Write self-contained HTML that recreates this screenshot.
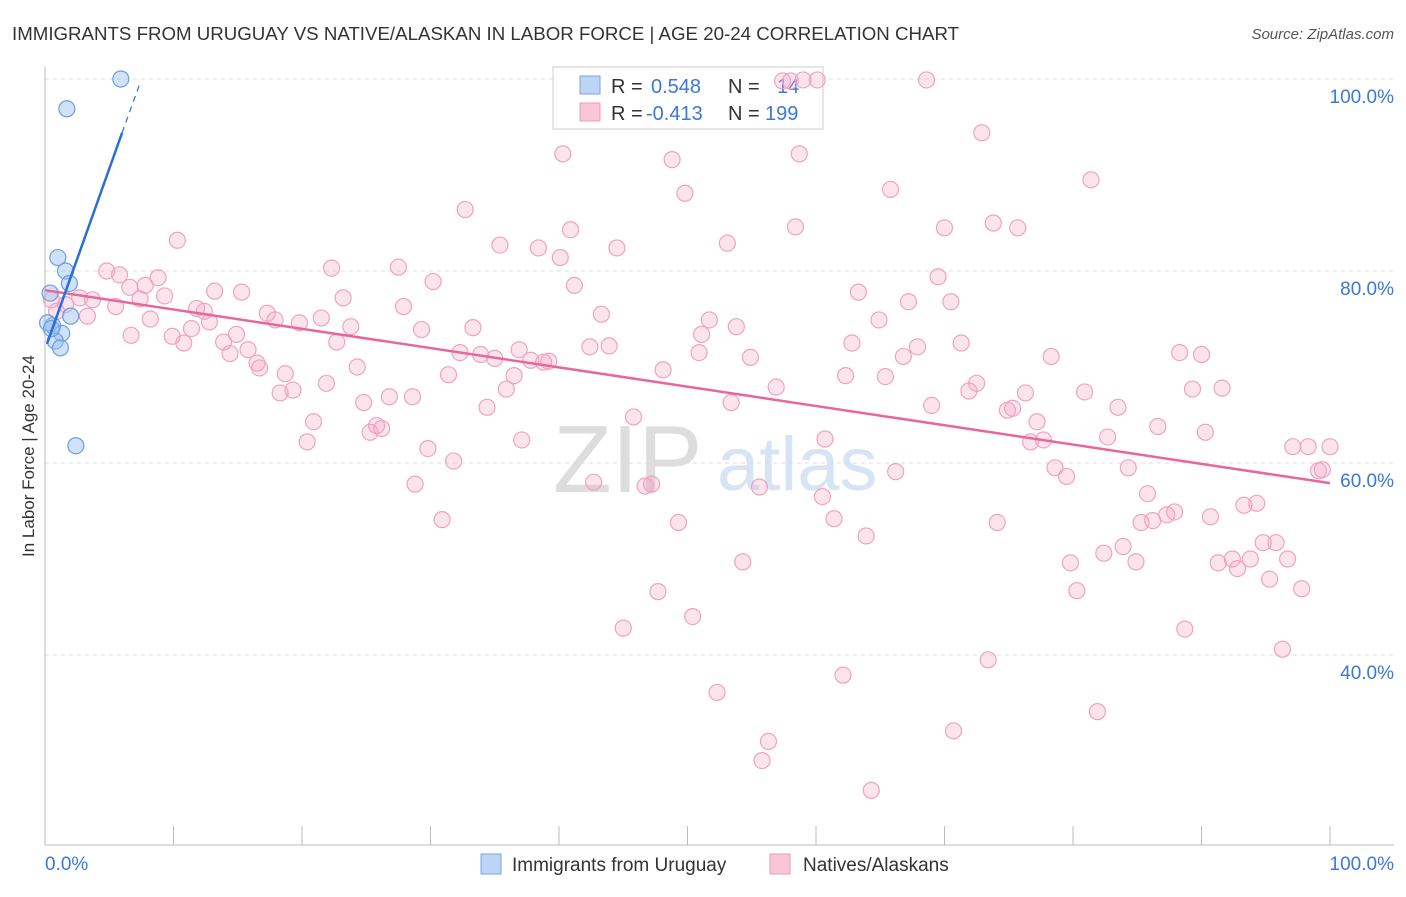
<!DOCTYPE html>
<html><head><meta charset="utf-8"><style>
body{margin:0;background:#fff;font-family:"Liberation Sans",sans-serif}
svg text{font-family:"Liberation Sans",sans-serif}
</style></head><body>
<svg id="c" width="1406" height="892">
<text x="12" y="40" font-size="18.7" fill="#333">IMMIGRANTS FROM URUGUAY VS NATIVE/ALASKAN IN LABOR FORCE | AGE 20-24 CORRELATION CHART</text>
<text x="1394" y="39" font-size="15" fill="#555" font-style="italic" text-anchor="end">Source: ZipAtlas.com</text>
<text x="0" y="0" transform="translate(34,456) rotate(-90)" font-size="17" fill="#333" text-anchor="middle">In Labor Force | Age 20-24</text>
<g>
<text x="553" y="492" font-size="96" fill="#ddd" font-family="Liberation Serif">ZIP</text>
<text x="717" y="490" font-size="76" fill="#d6e4f5">atlas</text>
</g>
<g id="grid"></g><g id="axes"></g>
<g>
<rect x="553" y="67" width="270" height="62" fill="#fff" stroke="#ccc"/>
<rect x="580" y="76" width="20" height="18" fill="#bcd4f5" stroke="#7aa6e0"/>
<rect x="580" y="103" width="20" height="18" fill="#f9c6d6" stroke="#ee9ab8"/>
<text y="93" font-size="20"><tspan x="611" fill="#333">R = </tspan><tspan x="651" fill="#3b78d8">0.548</tspan><tspan x="728" fill="#333">N = </tspan><tspan x="777" fill="#3b78d8">14</tspan></text>
<text y="120" font-size="20"><tspan x="611" fill="#333">R = </tspan><tspan x="646" fill="#3b78d8">-0.413</tspan><tspan x="728" fill="#333">N = </tspan><tspan x="765" fill="#3b78d8">199</tspan></text>
</g>
<g id="pts"></g><g id="lines"></g>
<g>
<rect x="481" y="854" width="20" height="20" fill="#bcd4f5" stroke="#7aa6e0"/>
<text x="512" y="871" font-size="19" fill="#333">Immigrants from Uruguay</text>
<rect x="770" y="854" width="20" height="20" fill="#f9c6d6" stroke="#ee9ab8"/>
<text x="803" y="871" font-size="19" fill="#333">Natives/Alaskans</text>
</g>
</svg>
<script>
const yTicks=[40,60,80,100];
const yTickLabels=["40.0%","60.0%","80.0%","100.0%"];
const xTicks=[0,10,20,30,40,50,60,70,80,90,100];
const blueX=[5.9,1.7,1.0,1.6,1.9,0.4,0.6,1.3,2.0,0.8,1.2,0.2,2.4,0.5];
const blueY=[100,96.9,81.4,80,78.7,77.7,74.3,73.5,75.3,72.7,72,74.6,61.8,74];
const pinkX=[4.8,5.8,8.8,10.3,6.6,7.8,5.5,7.4,9.3,3.7,2.7,1.6,3.3,0.5,0.9,6.7,8.2,9.9,10.8,11.4,11.8,12.4,12.8,13.2,15.3,13.9,14.4,14.9,15.8,16.5,16.7,17.3,17.9,18.3,18.7,19.3,19.8,20.4,20.9,21.5,21.9,22.3,22.7,23.2,23.8,24.3,24.8,25.3,25.8,26.2,26.8,27.5,27.9,28.6,28.8,29.3,29.8,30.2,30.9,31.4,31.8,32.3,32.7,33.3,33.9,34.4,35.0,35.4,35.9,36.5,36.9,37.1,37.8,38.4,38.8,39.2,40.1,40.3,40.9,41.2,42.4,42.7,43.3,43.9,44.5,45.0,45.8,46.7,47.2,47.7,48.1,48.8,49.3,49.8,50.4,50.9,51.1,51.7,52.3,53.1,53.4,53.8,54.3,54.9,55.6,55.8,56.3,56.9,57.4,58.0,58.4,58.7,59.0,60.1,60.5,60.7,61.4,62.1,62.3,62.8,63.3,63.9,64.3,64.9,65.4,65.8,66.2,66.8,67.2,67.9,68.6,69.0,69.5,70.0,70.5,70.7,71.3,71.9,72.5,72.9,73.4,73.8,74.1,74.9,75.3,75.7,76.3,76.7,77.2,77.7,78.3,78.6,79.5,79.8,80.3,80.9,81.4,81.9,82.4,82.7,83.5,83.9,84.3,84.9,85.3,85.8,86.2,86.6,87.3,87.9,88.3,88.7,89.3,90.0,90.3,90.7,91.3,91.6,92.4,92.8,93.3,93.8,94.3,94.8,95.3,95.8,96.3,96.7,97.1,97.8,98.3,99.1,99.4,100.0];
const pinkY=[80.0,79.6,79.3,83.2,78.3,78.5,76.3,77.1,77.4,77.0,77.2,76.5,75.3,77.0,75.8,73.3,75.0,73.2,72.5,74.0,76.1,75.8,74.7,77.9,77.8,72.6,71.4,73.4,71.8,70.4,69.9,75.6,74.9,67.3,69.3,67.6,74.6,62.2,64.3,75.1,68.3,80.3,72.6,77.2,74.2,70.0,66.3,63.2,63.9,63.6,66.9,80.4,76.3,66.9,57.8,73.9,61.5,78.9,54.1,69.2,60.2,71.5,86.4,74.1,71.3,65.8,70.9,82.7,67.7,69.1,71.8,62.4,70.7,82.4,70.5,70.6,81.4,92.2,84.3,78.5,72.1,58.0,75.5,72.2,82.4,42.8,64.8,57.6,57.8,46.6,69.7,91.6,53.8,88.1,44.0,71.5,73.4,74.9,36.1,82.9,66.3,74.2,49.7,71.0,57.5,29.0,31.0,67.9,99.8,99.8,84.6,92.2,99.9,99.9,56.5,62.5,54.2,37.9,69.1,72.5,77.8,52.4,25.9,74.9,69.0,88.5,59.1,71.1,76.8,72.1,99.9,66.0,79.4,84.5,76.8,32.1,72.5,67.5,68.3,94.4,39.5,85.0,53.8,65.5,65.7,84.5,67.3,62.2,64.3,62.4,71.1,59.5,58.6,49.6,46.7,67.4,89.5,34.1,50.6,62.7,65.8,51.3,59.5,49.7,53.8,56.8,54.0,63.8,54.6,54.9,71.5,42.7,67.7,71.3,63.2,54.4,49.6,67.8,50.0,49.0,55.6,50.0,55.8,51.7,47.9,51.7,40.6,50.0,61.7,46.9,61.7,59.2,59.3,61.7];
const blueLine=[[0.15,72.4],[6.0,94.4]];
const blueDash=[[6.0,94.4],[7.4,99.6]];
const pinkLine=[[0,78.0],[100,57.9]];
const NS="http://www.w3.org/2000/svg";
const X=v=>45+v*12.85, Y=v=>79+(100-v)*9.6;
function mk(t,a,p){const e=document.createElementNS(NS,t);for(const k in a)e.setAttribute(k,a[k]);p.appendChild(e);return e;}
const grid=document.getElementById('grid'),axes=document.getElementById('axes'),pts=document.getElementById('pts'),lines=document.getElementById('lines');
yTicks.forEach((v,i)=>{
 const l=mk('line',{x1:45,x2:1394,y1:Y(v),y2:Y(v),stroke:'#ddd','stroke-dasharray':'4,4'},grid);
 
 
 const t=mk('text',{x:1394,y:Y(v)+24,'font-size':19,fill:'#3b78d8','text-anchor':'end'},axes);
 t.textContent=yTickLabels[i];
 
 
});
const ax=mk('line',{x1:45,x2:45,y1:67,y2:845,stroke:'#bbb'},axes);


const bx=mk('line',{x1:45,x2:1394,y1:845,y2:845,stroke:'#bbb'},axes);


xTicks.forEach(v=>{
 const t=mk('line',{x1:X(v),x2:X(v),y1:826,y2:845,stroke:'#bbb'},axes);
 
 
});
const xl=mk('text',{x:45,y:870,'font-size':19,fill:'#3b78d8'},axes);xl.textContent='0.0%';


const xr=mk('text',{x:1394,y:870,'font-size':19,fill:'#3b78d8','text-anchor':'end'},axes);xr.textContent='100.0%';


pinkX.forEach((v,i)=>{
 const c=mk('circle',{cx:X(v),cy:Y(pinkY[i]),r:8,fill:'rgba(245,165,195,0.3)',stroke:'#f0a3bf','stroke-width':1.2},pts);
 
 
});
blueX.forEach((v,i)=>{
 const c=mk('circle',{cx:X(v),cy:Y(blueY[i]),r:8,fill:'rgba(150,190,240,0.45)',stroke:'#6d9fe0','stroke-width':1.2},pts);
 
 
});
const pl=mk('line',{x1:X(pinkLine[0][0]),y1:Y(pinkLine[0][1]),x2:X(pinkLine[1][0]),y2:Y(pinkLine[1][1]),stroke:'#e8679a','stroke-width':2.5},lines);


const bl=mk('line',{x1:X(blueLine[0][0]),y1:Y(blueLine[0][1]),x2:X(blueLine[1][0]),y2:Y(blueLine[1][1]),stroke:'#2a6fd6','stroke-width':2.5},lines);


const bd=mk('line',{x1:X(blueDash[0][0]),y1:Y(blueDash[0][1]),x2:X(blueDash[1][0]),y2:Y(blueDash[1][1]),stroke:'#2a6fd6','stroke-width':1.2,'stroke-dasharray':'6,5'},lines);


</script>
</body></html>
